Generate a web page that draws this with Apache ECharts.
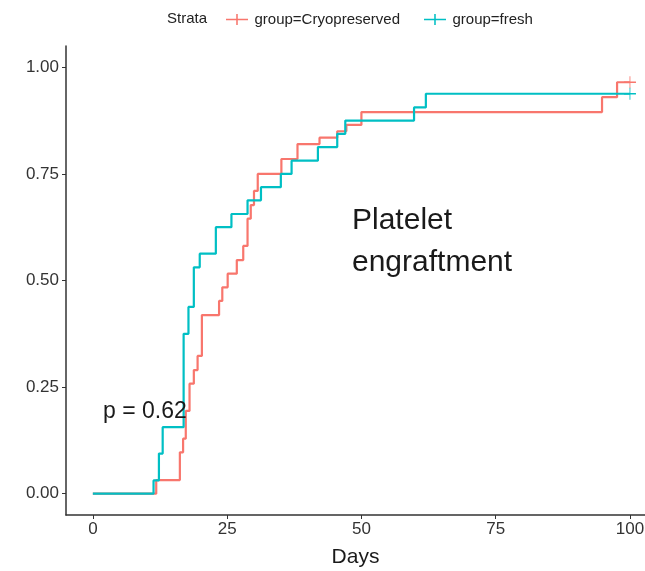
<!DOCTYPE html>
<html>
<head>
<meta charset="utf-8">
<script src="https://cdn.jsdelivr.net/npm/echarts@6/dist/echarts.min.js"></script>
<style>
  html, body { margin: 0; padding: 0; background: #ffffff; }
  #chart { width: 645px; height: 571px; }
</style>
</head>
<body>
<div id="chart"></div>
<script>
// Kaplan-Meier style cumulative engraftment, one step curve per group
const seriesNames = ['group=Cryopreserved', 'group=fresh'];
const seriesColors = ['#F8766D', '#00BFC4'];

const cryoDays = [0, 11.8, 16.2, 16.8, 17.3, 18.0, 18.8, 19.5, 20.3, 23.5, 24.1, 25.1, 26.8, 28.0, 28.8, 29.4, 30.0, 30.7, 35.1, 38.1, 42.2, 45.5, 47.2, 50.0, 94.8, 97.6, 100];
const cryoProb = [0, 0.032, 0.097, 0.129, 0.194, 0.258, 0.29, 0.323, 0.419, 0.452, 0.484, 0.516, 0.548, 0.581, 0.645, 0.677, 0.71, 0.75, 0.785, 0.82, 0.835, 0.85, 0.865, 0.895, 0.93, 0.965, 0.965];

const freshDays = [0, 11.3, 12.3, 13.0, 16.9, 17.8, 18.8, 19.9, 22.9, 25.8, 28.8, 31.3, 35.0, 37.0, 41.9, 45.5, 47.0, 59.8, 62.0, 100];
const freshProb = [0, 0.031, 0.094, 0.156, 0.375, 0.438, 0.531, 0.563, 0.625, 0.656, 0.688, 0.719, 0.75, 0.781, 0.813, 0.844, 0.875, 0.906, 0.938, 0.938];

const xTicks = [0, 25, 50, 75, 100];
const yTicks = [0, 0.25, 0.5, 0.75, 1];

const pValueText = 'p = 0.62';
const noteText = 'Platelet\nengraftment';

// thin "+" used for censor marks and legend keys
const plusPath = 'path://M0,4.3H9.3V0H10.7V4.3H20V5.7H10.7V10H9.3V5.7H0Z';

function buildData(days, probs) {
  return days.map((d, i) => {
    if (i === days.length - 1) {
      return { value: [d, probs[i]], symbol: plusPath, symbolSize: [12, 12], symbolKeepAspect: false };
    }
    return { value: [d, probs[i]], symbol: 'none' };
  });
}

const chart = echarts.init(document.getElementById('chart'), null, { renderer: 'canvas' });
const font = 'Liberation Sans, Arial, sans-serif';

chart.setOption({
  animation: false,
  backgroundColor: '#ffffff',
  textStyle: { fontFamily: font },
  // the x range runs a little past the right edge of the canvas
  grid: { left: 66, right: 0, top: 46, bottom: 56, containLabel: false, outerBoundsMode: 'none' },
  legend: {
    top: 7,
    left: 221,
    itemWidth: 25,
    itemHeight: 11,
    itemGap: 24,
    textStyle: { fontSize: 15, color: '#222222', fontFamily: font },
    data: seriesNames.map((n, i) => ({ name: n, icon: plusPath, itemStyle: { color: seriesColors[i] } }))
  },
  xAxis: {
    type: 'value',
    min: -5,
    max: 102.8,
    name: 'Days',
    nameLocation: 'middle',
    nameGap: 32,
    nameTextStyle: { fontSize: 21, color: '#1a1a1a' },
    splitLine: { show: false },
    axisLine: { show: true, onZero: false, lineStyle: { color: '#333333', width: 1.5 } },
    axisTick: { show: true, customValues: xTicks, length: 4, lineStyle: { color: '#333333' } },
    axisLabel: { customValues: xTicks, fontSize: 17, color: '#333333', margin: 6 }
  },
  yAxis: {
    type: 'value',
    min: -0.05,
    max: 1.05,
    splitLine: { show: false },
    axisLine: { show: true, onZero: false, lineStyle: { color: '#333333', width: 1.5 } },
    axisTick: { show: true, customValues: yTicks, length: 4, lineStyle: { color: '#333333' } },
    axisLabel: { customValues: yTicks, fontSize: 17, color: '#333333', margin: 7,
      formatter: v => v.toFixed(2) }
  },
  series: [
    {
      name: seriesNames[0],
      type: 'line',
      step: 'end',
      showSymbol: true,
      data: buildData(cryoDays, cryoProb),
      lineStyle: { color: seriesColors[0], width: 2.2 },
      itemStyle: { color: seriesColors[0] },
      z: 2
    },
    {
      name: seriesNames[1],
      type: 'line',
      step: 'end',
      showSymbol: true,
      data: buildData(freshDays, freshProb),
      lineStyle: { color: seriesColors[1], width: 2.2 },
      itemStyle: { color: seriesColors[1] },
      z: 3
    }
  ],
  graphic: [
    { type: 'text', left: 167, top: 11, style: { text: 'Strata', fontSize: 15, fill: '#222222', fontFamily: font } },
    { type: 'text', left: 103, top: 400, z: 10, style: { text: pValueText, fontSize: 23, fill: '#1a1a1a', fontFamily: font } },
    { type: 'text', left: 352, top: 200, style: { text: noteText, fontSize: 30, lineHeight: 42, fill: '#1a1a1a', fontFamily: font } }
  ]
});
</script>
</body>
</html>
